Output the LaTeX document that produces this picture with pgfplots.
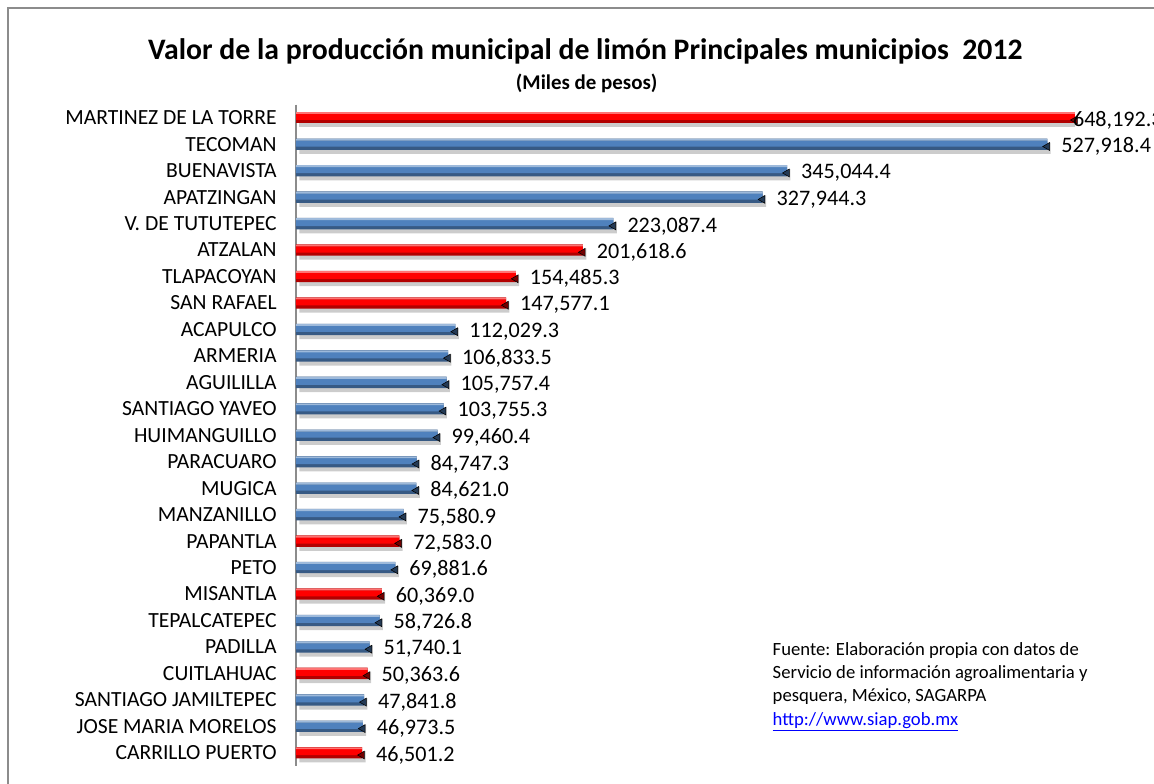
\documentclass[border=0pt]{standalone}
\usepackage{pgfplots}
\pgfplotsset{compat=1.18}
\usepackage{pgfplotstable}
\usepackage{fontspec}
\setmainfont{Carlito}
\usetikzlibrary{shadows}
\definecolor{barblue}{HTML}{4F81BD}
\definecolor{barred}{HTML}{FF0000}
\definecolor{framegray}{HTML}{8C8C8C}

% y = row index (0 = top), x = valor (miles de pesos)
\pgfplotstableread{
y x
0 648192.3
}\tablefirst
\pgfplotstableread{
y x
5 201618.6
6 154485.3
7 147577.1
16 72583.0
18 60369.0
21 50363.6
24 46501.2
}\tablered
\pgfplotstableread{
y x
1 527918.4
2 345044.4
3 327944.3
4 223087.4
8 112029.3
9 106833.5
10 105757.4
11 103755.3
12 99460.4
13 84747.3
14 84621.0
15 75580.9
17 69881.6
19 58726.8
20 51740.1
22 47841.8
23 46973.5
}\tableblue

\pgfplotsset{
  barbase/.style={draw=none, fill=#1!70!black, bar width=8.5pt, bar shift=0pt, nodes near coords={},
    drop shadow={shadow xshift=2.5pt, shadow yshift=-3pt, opacity=0.2, fill=black}},
  barmid/.style={draw=none, fill=#1, bar width=4.6pt, bar shift=0.45pt, nodes near coords={}},
  bartop/.style={draw=none, fill=#1!55!white, bar width=1.4pt, bar shift=3.4pt, nodes near coords={}},
  barlabel/.style={draw=none, fill=none, bar width=8.5pt, bar shift=0pt,
    mark=triangle*, mark size=3.4pt, mark options={rotate=90, xshift=-1.7pt, fill=#1!45!black, draw=none}},
}

\begin{document}
\begin{tikzpicture}
\draw[framegray, line width=1pt] (6pt,-6pt) rectangle (880pt,-600pt);
\node[font=\bfseries\fontsize{22.3}{26}\selectfont] at (439pt,-38.5pt) {Valor de la producción municipal de limón Principales municipios~~2012};
\node[font=\bfseries\fontsize{15.7}{18}\selectfont] at (440pt,-62.5pt) {(Miles de pesos)};
\begin{axis}[
  at={(222pt,-574.5pt)}, anchor=south west,
  scale only axis, width=584.25pt, height=496.1pt,
  xmin=0, xmax=547400,
  ymin=-0.5, ymax=24.5, y dir=reverse,
  hide x axis,
  axis y line*=left,
  y axis line style={draw=framegray, line width=1.3pt},
  ytick={0,...,24},
  major tick length=0pt,
  yticklabels={MARTINEZ DE LA TORRE,TECOMAN,BUENAVISTA,APATZINGAN,V. DE TUTUTEPEC\hspace{0.3em},ATZALAN,TLAPACOYAN,SAN RAFAEL,ACAPULCO\hspace{0.3em},ARMERIA,AGUILILLA,SANTIAGO YAVEO,HUIMANGUILLO,PARACUARO,MUGICA,MANZANILLO,PAPANTLA,PETO,MISANTLA,TEPALCATEPEC,PADILLA,CUITLAHUAC,SANTIAGO JAMILTEPEC,JOSE MARIA MORELOS,CARRILLO PUERTO},
  yticklabel style={font=\fontsize{16.2}{19}\selectfont, anchor=east, xshift=-11pt},
  xbar, bar width=8.5pt, bar shift=0pt,
  /pgf/number format/assume math mode=true,
  nodes near coords={\pgfmathprintnumber[fixed, fixed zerofill, precision=1, 1000 sep={,}]{\pgfplotspointmeta}},
  nodes near coords style={font=\fontsize{16.6}{19}\selectfont, anchor=west, xshift=7pt, text=black},
  point meta=explicit,
]
% MARTINEZ DE LA TORRE (bar exceeds the axis maximum, as in the original)
\addplot[barbase=barred, x filter/.expression={min(x,547400)}] table[x=x, y=y, meta=x] {\tablefirst};
\addplot[barmid=barred, x filter/.expression={min(x,547400)}] table[x=x, y=y, meta=x] {\tablefirst};
\addplot[bartop=barred, x filter/.expression={min(x,547400)}] table[x=x, y=y, meta=x] {\tablefirst};
\addplot[barlabel=barred, x filter/.expression={min(x,547400)}, nodes near coords style={xshift=-12pt}] table[x=x, y=y, meta=x] {\tablefirst};
% Red municipalities
\addplot[barbase=barred] table[x=x, y=y, meta=x] {\tablered};
\addplot[barmid=barred] table[x=x, y=y, meta=x] {\tablered};
\addplot[bartop=barred] table[x=x, y=y, meta=x] {\tablered};
\addplot[barlabel=barred] table[x=x, y=y, meta=x] {\tablered};
% Blue municipalities
\addplot[barbase=barblue] table[x=x, y=y, meta=x] {\tableblue};
\addplot[barmid=barblue] table[x=x, y=y, meta=x] {\tableblue};
\addplot[bartop=barblue] table[x=x, y=y, meta=x] {\tableblue};
\addplot[barlabel=barblue] table[x=x, y=y, meta=x] {\tableblue};
\end{axis}
\node[anchor=north west, align=left, font=\fontsize{14}{17.6}\selectfont] at (576pt,-478pt)
  {Fuente: Elaboración propia con datos de\\Servicio de información agroalimentaria y\\pesquera, México, SAGARPA\\\textcolor{blue}{\underline{http://www.siap.gob.mx}}};
\pgfresetboundingbox
\useasboundingbox (0pt,0pt) rectangle (865.5pt,-588pt);
\end{tikzpicture}
\end{document}
